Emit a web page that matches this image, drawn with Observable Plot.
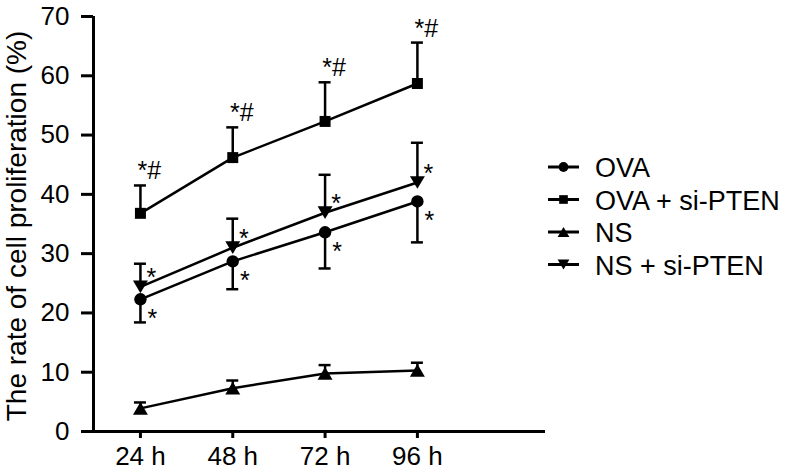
<!DOCTYPE html>
<html><head><meta charset="utf-8">
<script src="https://cdn.jsdelivr.net/npm/d3@7"></script>
<script src="https://cdn.jsdelivr.net/npm/@observablehq/plot@0.6"></script>
<style>
body{margin:0;background:#fff;}
#wrap{position:relative;width:792px;height:471px;font-family:"Liberation Sans",Arial,Helvetica,sans-serif;}
#legend{position:absolute;left:0;top:0;}
</style>
</head><body><div id="wrap"></div>
<script>
// ---- data ----
const times = [24, 48, 72, 96];
const tickLabels = ["24 h", "48 h", "72 h", "96 h"];
const yTicks = [0, 10, 20, 30, 40, 50, 60, 70];
const seriesNames = ["OVA", "OVA + si-PTEN", "NS", "NS + si-PTEN"];
const ovaMean = [22.3, 28.7, 33.6, 38.8];
const ovaErr = [3.9, 4.7, 6.1, 6.9];
const ovaSiMean = [36.8, 46.2, 52.3, 58.7];
const ovaSiErr = [4.7, 5.1, 6.6, 6.9];
const nsMean = [3.9, 7.3, 9.8, 10.3];
const nsErr = [1.0, 1.3, 1.4, 1.3];
const nsSiMean = [24.4, 31.0, 36.9, 42.0];
const nsSiErr = [3.9, 4.9, 6.4, 6.7];
const errDirection = [-1, 1, 1, 1]; // OVA bars go down, others up
const ovaMarks = ["*", "*", "*", "*"];
const ovaSiMarks = ["*#", "*#", "*#", "*#"];
const nsSiMarks = ["*", "*", "*", "*"];

// ---- symbols ----
const symCircle = {draw(c, size){ const r = Math.sqrt(size/Math.PI); c.moveTo(r,0); c.arc(0,0,r,0,2*Math.PI); }};
const symSquare = {draw(c, size){ const h = Math.sqrt(size)*0.5; c.moveTo(-h,-h); c.lineTo(h,-h); c.lineTo(h,h); c.lineTo(-h,h); c.closePath(); }};
const symTriUp = {draw(c, size){ const s = Math.sqrt(size); const w = s*0.68, h = s*0.58; c.moveTo(0,-h); c.lineTo(w,h); c.lineTo(-w,h); c.closePath(); }};
const symTriDown = {draw(c, size){ const s = Math.sqrt(size); const w = s*0.68, h = s*0.58; c.moveTo(-w,-h); c.lineTo(w,-h); c.lineTo(0,h); c.closePath(); }};
const symbols = [symCircle, symSquare, symTriUp, symTriDown];

const means = [ovaMean, ovaSiMean, nsMean, nsSiMean];
const errs = [ovaErr, ovaSiErr, nsErr, nsSiErr];
const rows = [];
seriesNames.forEach((name, si) => {
  times.forEach((t, i) => {
    rows.push({series: name, si, t, mean: means[si][i], end: means[si][i] + errDirection[si]*errs[si][i]});
  });
});
const ann = (si, marks) => times.map((t, i) => ({t, mean: means[si][i], end: means[si][i] + errDirection[si]*errs[si][i], label: marks[i]}));
const annOva = ann(0, ovaMarks), annOvaSi = ann(1, ovaSiMarks), annNsSi = ann(3, nsSiMarks);

const xDomain = [11.8, 129.3];
const font = '"Liberation Sans",Arial,Helvetica,sans-serif';

const marks = [
  Plot.axisY({ticks: yTicks, tickSize: 12, tickPadding: 12, strokeWidth: 3, fontSize: 26, label: null}),
  Plot.axisX({ticks: times, tickFormat: d => tickLabels[times.indexOf(d)], tickSize: 7, tickPadding: 8, strokeWidth: 3, fontSize: 26, label: null}),
  Plot.ruleY([0], {strokeWidth: 3, insetLeft: -1.5}),
  Plot.ruleX([xDomain[0]], {strokeWidth: 3}),
  // error bars
  Plot.ruleX(rows, {x: "t", y1: "mean", y2: "end", strokeWidth: 2.5, stroke: "black"}),
  Plot.ruleY(rows, {x1: "t", x2: "t", y: "end", strokeWidth: 2.5, stroke: "black", insetLeft: -6, insetRight: -6}),
];
seriesNames.forEach((name, si) => {
  const d = rows.filter(r => r.si === si);
  marks.push(Plot.line(d, {x: "t", y: "mean", stroke: "black", strokeWidth: 2.5}));
  marks.push(Plot.dot(d, {x: "t", y: "mean", symbol: () => symbols[si], r: 6.2, fill: "black", stroke: "none"}));
});
marks.push(Plot.text(annOvaSi, {x: "t", y: "end", text: "label", dx: 9, dy: -14, fontSize: 25, fill: "black", letterSpacing: "-2px"}));
marks.push(Plot.text(annOva, {x: "t", y: "mean", text: "label", dx: 12, dy: 20, fontSize: 25, fill: "black"}));
marks.push(Plot.text(annNsSi, {x: "t", y: "mean", text: "label", dx: 11, dy: -9, fontSize: 25, fill: "black"}));

const chart = Plot.plot({
  width: 792, height: 471,
  marginLeft: 93, marginRight: 247, marginTop: 16, marginBottom: 40,
  x: {type: "linear", domain: xDomain},
  y: {domain: [0, 70]},
  symbol: {type: "identity"},
  style: {fontFamily: font, background: "white", color: "black", overflow: "visible"},
  marks
});
const svg = d3.select(chart);
svg.append("text")
  .attr("transform", "translate(26,226) rotate(-90)")
  .attr("text-anchor", "middle")
  .attr("font-size", 28)
  .attr("font-family", font)
  .attr("fill", "black")
  .text("The rate of cell proliferation (%)");
document.getElementById("wrap").appendChild(chart);

// ---- legend ----
const leg = d3.select("#wrap").append("svg").attr("id", "legend").attr("width", 792).attr("height", 471);
const legY0 = 167, legStep = 32.5;
seriesNames.forEach((name, si) => {
  const g = leg.append("g").attr("transform", `translate(0,${legY0 + si*legStep})`);
  g.append("line").attr("x1", 548).attr("x2", 579).attr("stroke", "black").attr("stroke-width", 3);
  g.append("path").attr("transform", "translate(563.5,0)").attr("d", d3.symbol(symbols[si], 75)()).attr("fill", "black");
  g.append("text").attr("x", 595).attr("y", 10).attr("font-size", 27).attr("font-family", font).attr("fill", "black").text(name);
});
</script></body></html>
